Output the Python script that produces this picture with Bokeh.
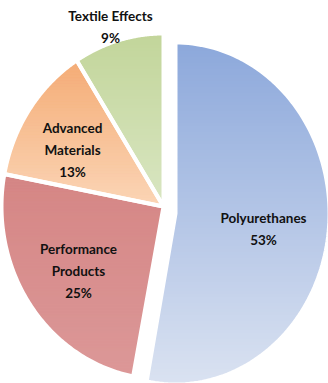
import numpy as np
from bokeh.plotting import figure
from bokeh.models import Range1d, ColumnDataSource
from bokeh.core.properties import value
from bokeh.embed import file_html
from bokeh.resources import INLINE

# ---- data ----
categories = ["Polyurethanes", "Performance Products", "Advanced Materials", "Textile Effects"]
shares = [53, 25, 13, 9]
label_lines = [["Polyurethanes"], ["Performance", "Products"], ["Advanced", "Materials"], ["Textile Effects"]]
top_colors = ["#8CA8DB", "#D58685", "#F4AC76", "#C2D59A"]
bottom_colors = ["#DAE2F1", "#DC9898", "#FBD5B6", "#D9E6C2"]

# ---- layout constants (pixel-like data space, y pointing down) ----
W, H = 328, 383
base_center = (163.0, 206.0)
base_radii = (162.0, 173.0)
explode_center = (175.0, 213.0)   # Polyurethanes slice pulled out
explode_radii = (154.0, 171.0)
label_pos = [(263, 217), (78, 248), (72, 127), (110, 15)]
line_gap = 22

p = figure(width=W, height=H, x_range=Range1d(0, W), y_range=Range1d(H, 0),
           output_backend="svg", toolbar_location=None, min_border=0)
p.axis.visible = False
p.grid.visible = False
p.outline_line_color = None
p.background_fill_color = "white"
p.border_fill_color = "white"


def hex2rgb(h):
    h = h.lstrip("#")
    return np.array([int(h[i:i + 2], 16) for i in (0, 2, 4)], dtype=float)


def rgb2hex(c):
    return "#%02x%02x%02x" % tuple(int(round(v)) for v in c)


def clip(poly, keep, cval):
    out = []
    n = len(poly)
    for i in range(n):
        cur = poly[i]
        prev = poly[i - 1]
        kc, kp = keep(cur), keep(prev)
        if kc:
            if not kp:
                t = (cval - prev[1]) / (cur[1] - prev[1])
                out.append((prev[0] + t * (cur[0] - prev[0]), cval))
            out.append(cur)
        elif kp:
            t = (cval - prev[1]) / (cur[1] - prev[1])
            out.append((prev[0] + t * (cur[0] - prev[0]), cval))
    return out


total = float(sum(shares))
cum = np.concatenate([[0.0], np.cumsum(shares)]) / total * 2 * np.pi

strip_xs, strip_ys, strip_cols = [], [], []
out_xs, out_ys = [], []

for i, cat in enumerate(categories):
    if i == 0:
        (cx, cy), (rx, ry) = explode_center, explode_radii
    else:
        (cx, cy), (rx, ry) = base_center, base_radii
    th = np.linspace(cum[i], cum[i + 1], 120)
    ax = cx + rx * np.sin(th)
    ay = cy - ry * np.cos(th)
    poly = [(cx, cy)] + list(zip(ax, ay))
    out_xs.append([q[0] for q in poly])
    out_ys.append([q[1] for q in poly])

    ymin = min(q[1] for q in poly)
    ymax = max(q[1] for q in poly)
    c0, c1 = hex2rgb(top_colors[i]), hex2rgb(bottom_colors[i])
    step = 3.0
    y0 = ymin
    while y0 < ymax:
        y1 = min(y0 + step, ymax)
        sp = clip(poly, lambda q, a=y0: q[1] >= a, y0)
        if sp:
            sp = clip(sp, lambda q, b=y1: q[1] <= b, y1)
        if len(sp) >= 3:
            t = ((y0 + y1) / 2 - ymin) / (ymax - ymin)
            strip_xs.append([q[0] for q in sp])
            strip_ys.append([q[1] for q in sp])
            strip_cols.append(rgb2hex(c0 + (c1 - c0) * t))
        y0 = y1

p.patches(xs="xs", ys="ys", fill_color="c", line_color="c", line_width=1,
          source=ColumnDataSource(dict(xs=strip_xs, ys=strip_ys, c=strip_cols)))
p.patches(xs=out_xs, ys=out_ys, fill_alpha=0, line_color="white", line_width=4,
          line_join="miter")

# ---- labels ----
tx, ty, tt = [], [], []
for i, lines in enumerate(label_lines):
    x, y = label_pos[i]
    allines = lines + ["%d%%" % shares[i]]
    for k, s in enumerate(allines):
        tx.append(x)
        ty.append(y + k * line_gap)
        tt.append(s)

p.text(x=tx, y=ty, text=tt, text_align="center", text_baseline="middle",
       text_font=value("Lato"), text_font_style="bold", text_font_size="13.5px",
       text_color="#111111")

open("out.html", "w").write(file_html(p, INLINE))
